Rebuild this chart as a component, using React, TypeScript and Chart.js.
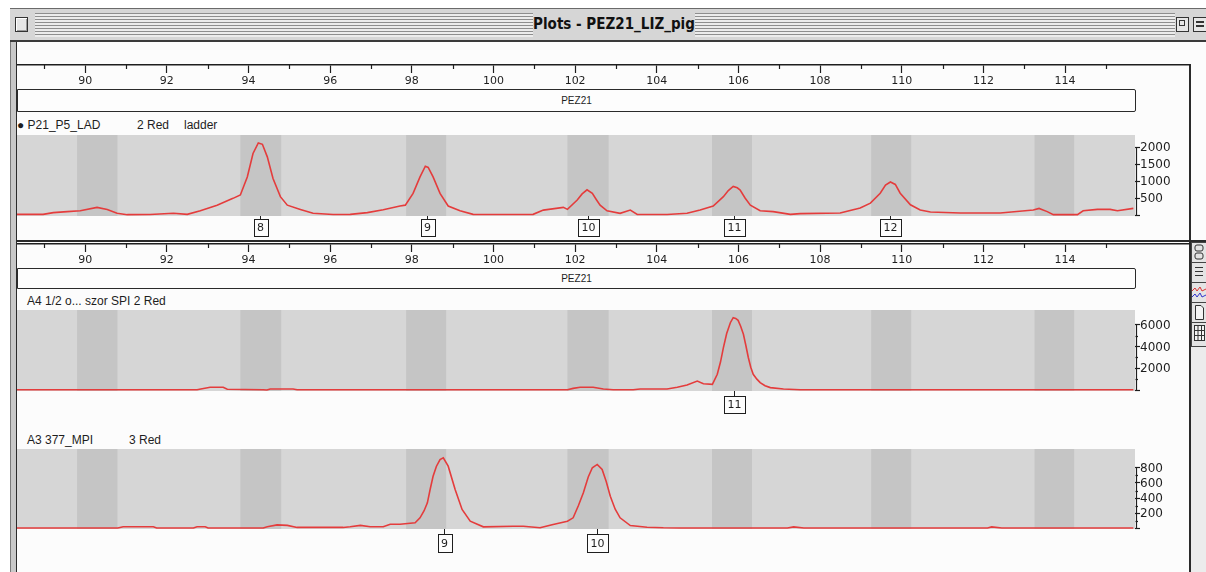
import React, { useEffect, useRef } from 'react';
import { Chart, registerables } from 'chart.js';

Chart.register(...registerables);

// ---------- data ----------
// size axis window (bp)
const X_MIN = 88.33;
const X_MAX_PANEL = 115.71;
const X_MAX_RULER = 117.06;

// ruler ticks (bp); even ones carry labels
const rulerTicks = [
  89, 90, 91, 92, 93, 94, 95, 96, 97, 98, 99, 100, 101, 102, 103, 104, 105, 106, 107, 108, 109, 110, 111,
  112, 113, 114, 115,
];

// allele bins (bp)
const binStarts = [89.8, 93.8, 97.86, 101.81, 105.35, 109.25, 113.25];
const binEnds = [90.79, 94.8, 98.84, 102.82, 106.33, 110.23, 114.22];

// panel 1 : P21_P5_LAD  2 Red  ladder
const ladderSizes = [
  88.33, 88.97, 89.22, 89.56, 89.88, 90.29, 90.54, 90.78, 91.03, 91.59, 92.16, 92.5, 92.82, 93.23, 93.62,
  93.8, 93.97, 94.11, 94.24, 94.34, 94.46, 94.6, 94.78, 94.95, 95.27, 95.58, 96.07, 96.49, 96.91, 97.3,
  97.71, 97.84, 98.03, 98.2, 98.33, 98.4, 98.52, 98.69, 98.89, 99.18, 99.5, 100.16, 100.97, 101.22,
  101.71, 101.81, 102.05, 102.17, 102.29, 102.42, 102.52, 102.61, 102.78, 103.1, 103.35, 103.52, 104.25,
  104.74, 105.06, 105.38, 105.63, 105.75, 105.87, 105.97, 106.04, 106.16, 106.29, 106.53, 106.85, 107.27,
  107.51, 108.49, 108.98, 109.23, 109.47, 109.6, 109.72, 109.84, 109.96, 110.21, 110.45, 110.7, 111.43,
  112.41, 113.22, 113.36, 113.56, 113.71, 114.3, 114.44, 114.79, 115.1, 115.28, 115.67,
];
const ladderSignal = [
  20, 20, 70, 100, 125, 225, 165, 50, 10, 15, 50, 20, 125, 290, 490,
  590, 1120, 1810, 2120, 2080, 1710, 1075, 540, 290, 165, 50, 15, 20, 70, 155,
  265, 290, 635, 1120, 1435, 1400, 1120, 635, 265, 125, 20, 15, 20, 145,
  225, 165, 440, 620, 740, 635, 450, 290, 125, 50, 145, 20, 15,
  50, 145, 265, 540, 720, 840, 800, 735, 500, 290, 125, 100, 20,
  40, 60, 205, 350, 640, 880, 970, 900, 640, 300, 150, 90, 60,
  60, 145, 195, 100, 10, 10, 125, 165, 165, 125, 195,
];
const ladderYTicks = [0, 500, 1000, 1500, 2000];
const ladderPeakSizes = [94.29, 98.36, 102.32, 105.88, 109.72];
const ladderPeakLabels = ['8', '9', '10', '11', '12'];

// panel 2 : A4 1/2 o... szor SPI  2 Red
const sampleASizes = [
  88.33, 92.74, 92.8, 93.06, 93.38, 93.48, 94.36, 94.45, 94.53, 95.09, 95.19, 101.81, 101.95, 102.12,
  102.44, 102.69, 102.93, 103.42, 103.59, 104.25, 104.5, 104.74, 104.99, 105.14, 105.36, 105.48, 105.56,
  105.63, 105.71, 105.8, 105.87, 105.93, 105.99, 106.05, 106.12, 106.18, 106.24, 106.3, 106.36, 106.45,
  106.53, 106.65, 106.78, 107.1, 107.51, 115.67,
];
const sampleASignal = [
  20, 20, 65, 250, 250, 65, 20, 0, 90, 90, 20, 20, 150, 250,
  250, 90, 20, 20, 90, 90, 250, 460, 830, 580, 525, 1450, 2600,
  3900, 5200, 6200, 6670, 6600, 6420, 5900, 5130, 4100, 3000, 2100, 1450, 1000,
  680, 400, 220, 90, 20, 20,
];
const sampleAYTicks = [0, 1000, 2000, 3000, 4000, 5000, 6000];
const sampleAPeakSizes = [105.9];
const sampleAPeakLabels = ['11'];

// panel 3 : A3 377_MPI  3 Red
const sampleBSizes = [
  88.33, 90.8, 90.93, 91.67, 91.75, 92.65, 92.74, 92.94, 93.01, 94.36, 94.46, 94.7, 94.95, 95.19, 96.32,
  96.49, 96.74, 96.98, 97.3, 97.47, 97.71, 98.08, 98.2, 98.3, 98.38, 98.45, 98.52, 98.6, 98.69, 98.77,
  98.89, 99.06, 99.23, 99.43, 99.75, 100.48, 100.73, 101.14, 101.46, 101.81, 101.95, 102.08, 102.2,
  102.32, 102.42, 102.54, 102.66, 102.76, 102.86, 102.98, 103.1, 103.35, 103.76, 104.16, 104.57, 107.2,
  107.35, 107.6, 112.1, 112.2, 112.45, 115.67,
];
const sampleBSignal = [
  0, 0, 16, 16, 0, 0, 16, 16, 0, 0, 16, 42, 35, 8, 8,
  16, 35, 16, 16, 51, 50, 69, 136, 230, 336, 520, 690, 820, 913, 936,
  824, 513, 247, 91, 16, 24, 24, 3, 47, 91, 136, 300, 469,
  680, 803, 847, 780, 620, 424, 250, 136, 33, 11, 3, 0, 0,
  15, 0, 0, 15, 0, 0,
];
const sampleBYTicks = [0, 100, 200, 300, 400, 500, 600, 700, 800];
const sampleBPeakSizes = [98.78, 102.54];
const sampleBPeakLabels = ['9', '10'];

// ---------- styling ----------
const TRACE = '#e43c3c';
const AREA = '#d6d6d6';
const BIN = '#c5c5c5';
const INK = '#1e1e1e';
const AXIS_FONT = { family: '"DejaVu Sans", sans-serif', size: 11 };
const Y_FONT_CSS = '12px "DejaVu Sans", sans-serif';
const TEXT_FONT = '"Liberation Sans", Arial, sans-serif';

const rulerMinor = {
  id: 'rulerMinor',
  afterDraw(chart: any) {
    const { ctx, chartArea: a, scales } = chart;
    const x = scales.x;
    ctx.save();
    ctx.strokeStyle = INK;
    ctx.lineWidth = 1.2;
    rulerTicks.forEach((v) => {
      if (v % 2 === 0) return;
      const px = Math.round(x.getPixelForValue(v)) + 0.5;
      ctx.beginPath();
      ctx.moveTo(px, a.bottom);
      ctx.lineTo(px, a.bottom + 4);
      ctx.stroke();
    });
    ctx.restore();
  },
};

const panelDecor = {
  id: 'panelDecor',
  beforeDatasetsDraw(chart: any, _args: any, opts: any) {
    const { ctx, chartArea: a, scales } = chart;
    const x = scales.x;
    ctx.save();
    ctx.fillStyle = AREA;
    ctx.fillRect(a.left, a.top, a.width, a.height);
    ctx.fillStyle = BIN;
    const s: number[] = opts.binStarts;
    const e: number[] = opts.binEnds;
    for (let i = 0; i < s.length; i++) {
      const x0 = x.getPixelForValue(s[i]);
      const x1 = x.getPixelForValue(e[i]);
      ctx.fillRect(x0, a.top, x1 - x0, a.height);
    }
    ctx.restore();
  },
  afterDraw(chart: any, _args: any, opts: any) {
    const { ctx, chartArea: a, scales } = chart;
    const x = scales.x;
    const y = scales.y;
    ctx.save();
    // peak label boxes
    ctx.font = '11px "DejaVu Sans", sans-serif';
    ctx.textAlign = 'center';
    ctx.textBaseline = 'middle';
    ctx.lineWidth = 1;
    const sizes: number[] = opts.peakSizes;
    const labels: string[] = opts.peakLabels;
    for (let i = 0; i < sizes.length; i++) {
      const px = Math.round(x.getPixelForValue(sizes[i])) + 0.5;
      const w = Math.round(ctx.measureText(labels[i]).width) + 7;
      const top = Math.round(a.bottom + opts.boxGap) + 0.5;
      ctx.strokeStyle = INK;
      ctx.beginPath();
      ctx.moveTo(px, a.bottom);
      ctx.lineTo(px, top);
      ctx.stroke();
      ctx.fillStyle = '#fdfdfd';
      ctx.fillRect(px - w / 2, top, w, opts.boxH);
      ctx.strokeRect(Math.round(px - w / 2) + 0.5, top, w, opts.boxH);
      ctx.fillStyle = INK;
      ctx.fillText(labels[i], px, top + opts.boxH / 2 + 0.5);
    }
    // y axis spine, minor marks and tick labels
    const vals: number[] = opts.yTicks;
    const topVal = Math.max(...vals);
    const lx = Math.round(a.right) + 1.5;
    ctx.strokeStyle = INK;
    ctx.lineWidth = 1.2;
    ctx.beginPath();
    ctx.moveTo(lx, y.getPixelForValue(topVal));
    ctx.lineTo(lx, y.getPixelForValue(0));
    ctx.stroke();
    ctx.font = Y_FONT_CSS;
    ctx.textAlign = 'left';
    ctx.textBaseline = 'middle';
    ctx.fillStyle = INK;
    vals.forEach((v) => {
      const py = Math.round(y.getPixelForValue(v)) + 0.5;
      if (v % opts.labelStep !== 0) {
        ctx.beginPath();
        ctx.moveTo(lx - 1, py);
        ctx.lineTo(lx + 1.5, py);
        ctx.stroke();
        return;
      }
      if (v > 0) ctx.fillText(String(v), a.right + 5, py + 0.5);
    });
    ctx.restore();
  },
};

function rulerConfig(): any {
  return {
    type: 'line',
    data: { datasets: [] },
    options: {
      animation: false,
      responsive: false,
      events: [],
      layout: { padding: 0 },
      plugins: { legend: { display: false }, tooltip: { enabled: false } },
      scales: {
        x: {
          type: 'linear',
          position: 'bottom',
          min: X_MIN,
          max: X_MAX_RULER,
          border: { display: true, color: INK, width: 1.5 },
          grid: {
            drawOnChartArea: false,
            drawTicks: true,
            tickLength: 8,
            tickWidth: 1.2,
            tickColor: (c: any) => (c.tick && c.tick.value % 2 === 0 ? INK : 'rgba(0,0,0,0)'),
          },
          ticks: {
            autoSkip: false,
            maxRotation: 0,
            minRotation: 0,
            padding: 2,
            color: INK,
            font: AXIS_FONT,
            callback: (v: any) => (Number(v) % 2 === 0 ? String(v) : ''),
          },
          afterBuildTicks: (s: any) => {
            s.ticks = rulerTicks.map((v) => ({ value: v }));
          },
          afterFit: (s: any) => {
            s.height = 24;
            s.paddingLeft = 0;
            s.paddingRight = 0;
          },
        },
        y: { display: false },
      },
    },
    plugins: [rulerMinor],
  };
}

function panelConfig(p: {
  sizes: number[];
  signal: number[];
  yTicks: number[];
  peakSizes: number[];
  peakLabels: string[];
  yMin: number;
  yMax: number;
  labelStep: number;
  padBottom: number;
  boxGap: number;
  boxH: number;
}): any {
  return {
    type: 'line',
    data: {
      datasets: [
        {
          data: p.sizes.map((s, i) => ({ x: s, y: p.signal[i] })),
          borderColor: TRACE,
          borderWidth: 1.6,
          pointRadius: 0,
          fill: false,
          tension: 0,
        },
      ],
    },
    options: {
      animation: false,
      responsive: false,
      events: [],
      layout: { padding: { left: 0, right: 0, top: 0, bottom: p.padBottom } },
      plugins: {
        legend: { display: false },
        tooltip: { enabled: false },
        panelDecor: {
          binStarts,
          binEnds,
          yTicks: p.yTicks,
          peakSizes: p.peakSizes,
          peakLabels: p.peakLabels,
          labelStep: p.labelStep,
          boxGap: p.boxGap,
          boxH: p.boxH,
        },
      },
      scales: {
        x: { type: 'linear', min: X_MIN, max: X_MAX_PANEL, display: false },
        y: {
          type: 'linear',
          position: 'right',
          min: p.yMin,
          max: p.yMax,
          border: { display: false },
          grid: {
            drawOnChartArea: false,
            drawTicks: true,
            tickLength: 5,
            tickWidth: 1.2,
            tickColor: (c: any) => (c.tick && c.tick.value % p.labelStep === 0 ? INK : 'rgba(0,0,0,0)'),
          },
          ticks: { display: false, autoSkip: false },
          afterBuildTicks: (s: any) => {
            s.ticks = p.yTicks.map((v) => ({ value: v }));
          },
          afterFit: (s: any) => {
            s.width = 45;
            s.paddingTop = 0;
            s.paddingBottom = 0;
          },
        },
      },
    },
    plugins: [panelDecor],
  };
}

const abs = (l: number, t: number, w: number, h: number, extra: React.CSSProperties = {}): React.CSSProperties => ({
  position: 'absolute',
  left: l,
  top: t,
  width: w,
  height: h,
  boxSizing: 'border-box',
  ...extra,
});

function Text({ x, cy, children, size = 12 }: { x: number; cy: number; children: React.ReactNode; size?: number }) {
  return (
    <div
      style={{
        position: 'absolute',
        left: x,
        top: cy - 8,
        height: 16,
        lineHeight: '16px',
        fontSize: size,
        fontFamily: TEXT_FONT,
        color: INK,
        whiteSpace: 'pre',
      }}
    >
      {children}
    </div>
  );
}

function MarkerBox({ top, height }: { top: number; height: number }) {
  return (
    <div
      style={abs(17, top, 1119, height, {
        border: '1.5px solid #2a2a2a',
        borderRadius: '0 2px 2px 0',
        background: '#fdfdfd',
        display: 'flex',
        alignItems: 'center',
        justifyContent: 'center',
        fontFamily: TEXT_FONT,
        fontSize: 10,
        color: INK,
      })}
    >
      PEZ21
    </div>
  );
}

export default function App() {
  const ruler1 = useRef<HTMLCanvasElement>(null);
  const ruler2 = useRef<HTMLCanvasElement>(null);
  const p1 = useRef<HTMLCanvasElement>(null);
  const p2 = useRef<HTMLCanvasElement>(null);
  const p3 = useRef<HTMLCanvasElement>(null);

  useEffect(() => {
    const charts: Chart[] = [];
    charts.push(new Chart(ruler1.current!, rulerConfig()));
    charts.push(new Chart(ruler2.current!, rulerConfig()));
    charts.push(
      new Chart(
        p1.current!,
        panelConfig({
          sizes: ladderSizes,
          signal: ladderSignal,
          yTicks: ladderYTicks,
          peakSizes: ladderPeakSizes,
          peakLabels: ladderPeakLabels,
          yMin: -29,
          yMax: 2353,
          labelStep: 500,
          padBottom: 24,
          boxGap: 3,
          boxH: 17,
        })
      )
    );
    charts.push(
      new Chart(
        p2.current!,
        panelConfig({
          sizes: sampleASizes,
          signal: sampleASignal,
          yTicks: sampleAYTicks,
          peakSizes: sampleAPeakSizes,
          peakLabels: sampleAPeakLabels,
          yMin: -92,
          yMax: 7373,
          labelStep: 2000,
          padBottom: 23,
          boxGap: 5,
          boxH: 17,
        })
      )
    );
    charts.push(
      new Chart(
        p3.current!,
        panelConfig({
          sizes: sampleBSizes,
          signal: sampleBSignal,
          yTicks: sampleBYTicks,
          peakSizes: sampleBPeakSizes,
          peakLabels: sampleBPeakLabels,
          yMin: -13,
          yMax: 1053,
          labelStep: 200,
          padBottom: 25,
          boxGap: 5,
          boxH: 18,
        })
      )
    );
    return () => charts.forEach((c) => c.destroy());
  }, []);

  return (
    <div style={abs(0, 0, 1206, 572, { background: '#ffffff', overflow: 'hidden' })}>
      {/* window frame */}
      <div style={abs(10, 8, 1196, 564, { background: '#c8c8c8', borderLeft: '1.5px solid #7a7a7a' })} />
      {/* title bar */}
      <div style={abs(10, 8, 1196, 34, { background: '#d6d6d6', borderTop: '1.5px solid #6a6a6a', borderBottom: '2px solid #3a3a3a' })} />
      <div
        style={abs(35, 13, 1140, 24, {
          background: 'repeating-linear-gradient(to bottom, #8e8e8e 0px, #8e8e8e 1px, #ececec 1px, #ececec 3px)',
        })}
      />
      <div
        style={abs(533, 11, 162, 27, {
          background: '#d6d6d6',
          textAlign: 'center',
          lineHeight: '27px',
          fontFamily: '"Liberation Sans Narrow", "DejaVu Sans Condensed", "Liberation Sans", sans-serif',
          fontWeight: 'bold',
          fontSize: 15,
          color: '#111',
        })}
      >
        Plots - PEZ21_LIZ_pig
      </div>
      <div style={abs(15, 17, 13, 15, { border: '1.5px solid #333', background: '#e6e6e6', boxShadow: 'inset 1px 1px 0 #fff, inset -1px -1px 0 #999' })} />
      <div style={abs(1176, 17, 13, 15, { border: '1.5px solid #333', background: '#e6e6e6' })}>
        <div style={abs(2, 2, 6, 6, { border: '1px solid #333' })} />
      </div>
      <div style={abs(1193, 17, 13, 15, { border: '1.5px solid #333', borderRight: 'none', background: '#e6e6e6' })}>
        <div style={abs(2, 3, 8, 1.5, { background: '#333' })} />
        <div style={abs(2, 7, 8, 1.5, { background: '#333' })} />
      </div>

      {/* content area */}
      <div style={abs(16, 42, 1190, 530, { background: '#fcfcfc', borderLeft: '1.5px solid #2a2a2a' })} />
      <div style={abs(1189, 64, 1.5, 508, { background: '#2a2a2a' })} />
      <div style={abs(1191, 242, 15, 330, { background: '#ececec' })} />

      {/* ruler 1 + marker */}
      <canvas ref={ruler1} width={1173} height={47} style={{ position: 'absolute', left: 17, top: 42 }} />
      <MarkerBox top={89} height={23} />
      <Text x={17} cy={125}>{'\u25CF P21_P5_LAD'}</Text>
      <Text x={137} cy={125}>2 Red</Text>
      <Text x={184} cy={125}>ladder</Text>
      <canvas ref={p1} width={1163} height={105} style={{ position: 'absolute', left: 17, top: 135 }} />

      {/* separator + ruler 2 */}
      <div style={abs(16, 240, 1190, 1.5, { background: '#2a2a2a' })} />
      <canvas ref={ruler2} width={1173} height={28} style={{ position: 'absolute', left: 17, top: 240 }} />
      <MarkerBox top={268} height={21} />
      <Text x={27} cy={301}>A4 1/2 o... szor SPI 2 Red</Text>
      <canvas ref={p2} width={1163} height={104} style={{ position: 'absolute', left: 17, top: 310 }} />

      <Text x={27} cy={440}>A3 377_MPI</Text>
      <Text x={129} cy={440}>3 Red</Text>
      <canvas ref={p3} width={1163} height={105} style={{ position: 'absolute', left: 17, top: 449 }} />

      {/* side tool icons */}
      <svg width={16} height={106} style={{ position: 'absolute', left: 1190.5, top: 242 }}>
        <rect x={0.5} y={0.5} width={15} height={104} fill="#e4e4e4" stroke="#444" />
        <rect x={4} y={3} width={8} height={6} rx={2} fill="none" stroke="#333" />
        <rect x={4} y={11} width={8} height={6} rx={2} fill="none" stroke="#333" />
        <line x1={0} y1={20.5} x2={16} y2={20.5} stroke="#444" />
        <line x1={4} y1={25.5} x2={12} y2={25.5} stroke="#333" />
        <line x1={4} y1={29.5} x2={12} y2={29.5} stroke="#333" />
        <line x1={4} y1={33.5} x2={12} y2={33.5} stroke="#333" />
        <line x1={0} y1={40.5} x2={16} y2={40.5} stroke="#444" />
        <polyline points="1,49 4,46 6,49 9,45 11,49 15,47" fill="none" stroke="#d33" />
        <polyline points="1,55 4,52 6,55 9,51 11,55 15,53" fill="none" stroke="#33c" />
        <line x1={0} y1={60.5} x2={16} y2={60.5} stroke="#444" />
        <path d="M4.5 63.5 H10 L12.5 66 V77.5 H4.5 Z" fill="#f4f4f4" stroke="#333" />
        <line x1={0} y1={80.5} x2={16} y2={80.5} stroke="#444" />
        <rect x={3.5} y={83.5} width={10} height={15} fill="#f4f4f4" stroke="#333" />
        <line x1={3.5} y1={88.5} x2={13.5} y2={88.5} stroke="#333" />
        <line x1={3.5} y1={93.5} x2={13.5} y2={93.5} stroke="#333" />
        <line x1={7} y1={83.5} x2={7} y2={98.5} stroke="#333" />
        <line x1={10.5} y1={83.5} x2={10.5} y2={98.5} stroke="#333" />
      </svg>
    </div>
  );
}
